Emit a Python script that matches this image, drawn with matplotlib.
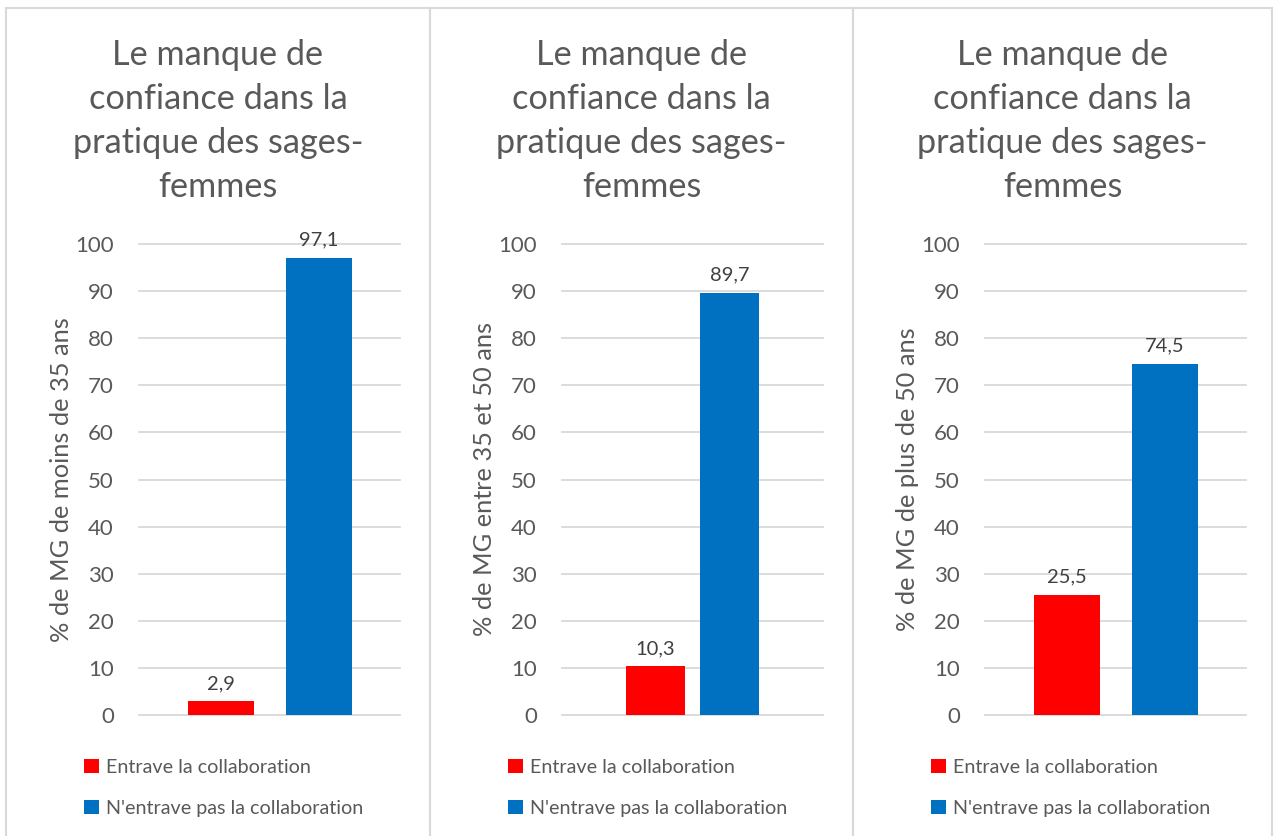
import matplotlib.pyplot as plt
from matplotlib.patches import Rectangle

plt.rcParams['font.family'] = ['Lato', 'DejaVu Sans']

title = "Le manque de\nconfiance dans la\npratique des sages-\nfemmes"
series = ["Entrave la collaboration", "N'entrave pas la collaboration"]
ylabels = ["% de MG de moins de 35 ans",
           "% de MG entre 35 et 50 ans",
           "% de MG de plus de 50 ans"]
entrave = [2.9, 10.3, 25.5]
pas_entrave = [97.1, 89.7, 74.5]
yticks = [0, 10, 20, 30, 40, 50, 60, 70, 80, 90, 100]

colors = ["#FF0000", "#0070C0"]
W, H = 1274, 836

fig = plt.figure(figsize=(W / 100, H / 100), dpi=100)

# panel boxes (pixels: left, right)
panels = [(6, 430), (430, 853), (853, 1272)]
plot_left = [139, 562, 985]
bar_pos = [(0.314, 0.69, 0.253), (0.358, 0.642, 0.226), (0.314, 0.69, 0.253)]

for i in range(3):
    pl, pr = panels[i]
    fig.patches.append(Rectangle((pl / W, -0.05), (pr - pl) / W, 1.05 - 8 / H,
                                 transform=fig.transFigure, fill=False,
                                 edgecolor="#D9D9D9", linewidth=1.5))

    ax = fig.add_axes([plot_left[i] / W, (836 - 715) / H, 261 / W, (715 - 244) / H])
    x1, x2, bw = bar_pos[i]
    b1 = ax.bar([x1], [entrave[i]], width=bw, color=colors[0], label=series[0])
    b2 = ax.bar([x2], [pas_entrave[i]], width=bw, color=colors[1], label=series[1])
    for b, v in [(b1[0], entrave[i]), (b2[0], pas_entrave[i])]:
        ax.text(b.get_x() + b.get_width() / 2, v + 2.0, f"{v:.1f}".replace(".", ","),
                ha="center", va="bottom", fontsize=14.5, color="#404040")

    ax.set_xlim(0, 1)
    ax.set_ylim(0, 100)
    ax.set_yticks(yticks)
    ax.set_xticks([])
    ax.tick_params(axis="y", length=0, labelsize=16, labelcolor="#595959", pad=18)
    ax.grid(axis="y", color="#D9D9D9", linewidth=1.3)
    for gl in ax.get_ygridlines():
        gl.set_clip_on(False)
    ax.set_axisbelow(True)
    for s in ax.spines.values():
        s.set_visible(False)
    ax.set_ylabel(ylabels[i], fontsize=18.3, color="#595959", labelpad=2)

    cx = (pl + pr) / 2 / W
    fig.text(cx, 1 - 121 / H, title, ha="center", va="center", fontsize=24.7,
             color="#595959", linespacing=1.47)

    leg = ax.legend(loc="upper left", bbox_to_anchor=((pl + 70) / W, 1 - 751 / H),
                    bbox_transform=fig.transFigure, frameon=False, fontsize=14.2,
                    handlelength=0.75, handleheight=0.75, handletextpad=0.35,
                    labelspacing=1.2, labelcolor="#595959", borderaxespad=0)

fig.savefig("out.png", dpi=100)
